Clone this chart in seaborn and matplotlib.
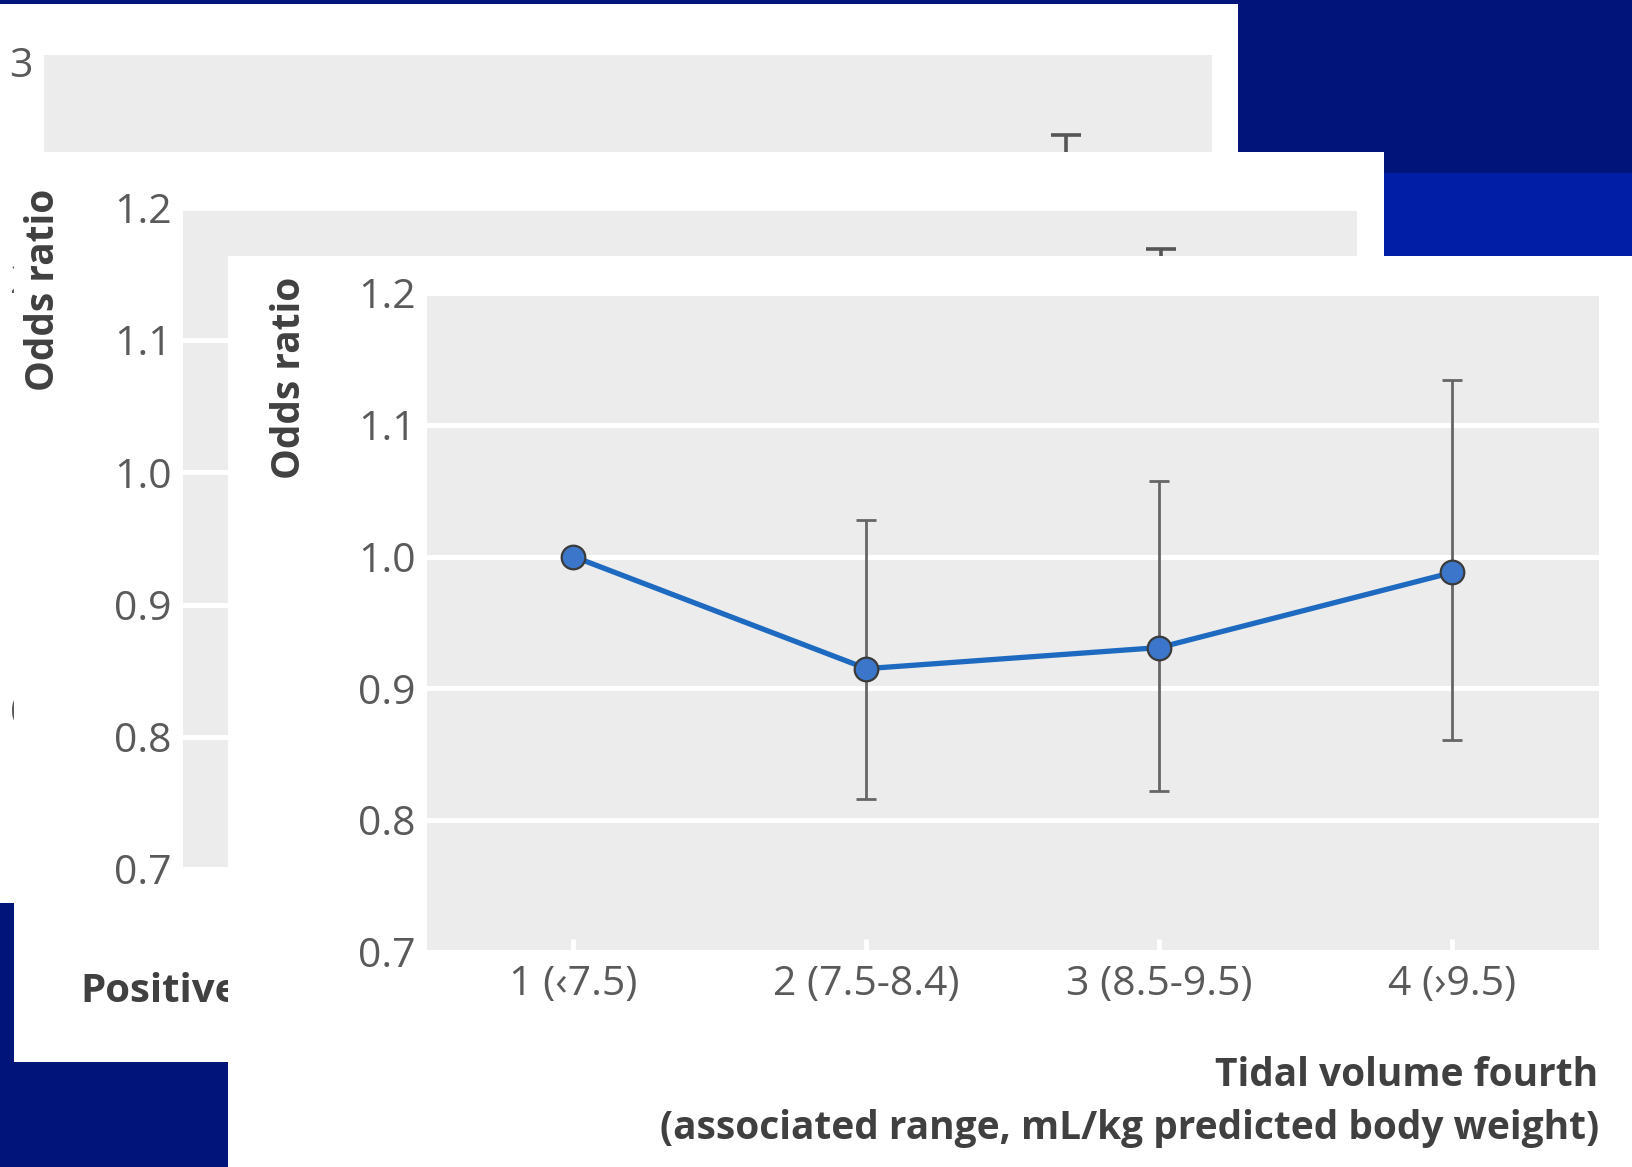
import numpy as np
import pandas as pd
import matplotlib
matplotlib.use("Agg")
import matplotlib.pyplot as plt
from matplotlib.patches import Rectangle
import seaborn as sns

# ---- data -------------------------------------------------------------
fourth_labels = ["1 (\u20397.5)", "2 (7.5-8.4)", "3 (8.5-9.5)", "4 (\u203a9.5)"]
odds_ratio = [1.00, 0.915, 0.931, 0.988]
ci_lower = [np.nan, 0.816, 0.822, 0.861]
ci_upper = [np.nan, 1.028, 1.057, 1.134]
or_ticks = [0.7, 0.8, 0.9, 1.0, 1.1, 1.2]

# panels stacked behind: only the top of their last interval is exposed
middle_upper = [1.169]
back_upper = [2.66]
back_ticks = [0, 1, 2, 3]

# ---- styling ----------------------------------------------------------
sns.set_theme(style="white")
plt.rcParams["font.family"] = ["Open Sans", "DejaVu Sans"]

W, H = 1633, 1167
NAVY = "#00147a"
BAND = "#011fa6"
PANEL = "#ebeceb"
TICK_C = "#5a5a5a"
LABEL_C = "#404040"
TICK_FS = 29.5
LABEL_FS = 28


def box(x0, y0, x1, y1):
    """Pixel box (top-left origin) -> figure fraction rect."""
    return [x0 / W, 1 - y1 / H, (x1 - x0) / W, (y1 - y0) / H]


def card(fig, x0, y0, x1, y1, z, color="white"):
    l, b, w, h = box(x0, y0, x1, y1)
    fig.add_artist(Rectangle((l, b), w, h, transform=fig.transFigure,
                             facecolor=color, edgecolor="none", zorder=z))


def style_axes(ax, ylim, yticks, ylabels, xlim, grid=True):
    ax.set_facecolor(PANEL)
    for s in ax.spines.values():
        s.set_visible(False)
    ax.set_xlim(*xlim)
    ax.set_ylim(*ylim)
    ax.set_yticks(yticks)
    ax.set_yticklabels(ylabels)
    ax.set_axisbelow(True)
    ax.grid(False)
    if grid:
        ax.grid(axis="y", color="white", linewidth=3.6)
    ax.tick_params(axis="y", length=0, pad=8, labelsize=TICK_FS,
                   labelcolor=TICK_C)
    ax.tick_params(axis="x", direction="in", length=9.5, width=3.5,
                   color="white", pad=9, labelsize=TICK_FS,
                   labelcolor=TICK_C, bottom=True)
    ax.set_xlabel("")
    ax.set_ylabel("")


fig = plt.figure(figsize=(W / 100, H / 100), dpi=100, facecolor=NAVY)

# brighter band of the slide background
card(fig, 0, 173, W, 256, 0.5, BAND)

# ---- back panel -------------------------------------------------------
card(fig, 0, 4, 1238, 903, 1)
ax1 = fig.add_axes(box(44, 55, 1212, 710), zorder=2)
style_axes(ax1, (0, 3.03), back_ticks, [str(t) for t in back_ticks],
           (-0.5, 3.5), grid=False)
ax1.set_xticks(range(4))
ax1.tick_params(axis="x", labelbottom=False)
ax1.errorbar([3], back_upper, yerr=[[back_upper[0]], [0]], fmt="none",
             ecolor="#555555", elinewidth=2.6, capsize=11, capthick=2.6)

# ---- middle panel -----------------------------------------------------
card(fig, 14, 152, 1384, 1062, 3)
ax2 = fig.add_axes(box(183, 208, 1357, 869), zorder=4)
style_axes(ax2, (0.7, 1.2), or_ticks, [f"{t:.1f}" for t in or_ticks],
           (-0.5, 3.7))
ax2.set_xticks(range(4))
ax2.tick_params(axis="x", labelbottom=False)
ax2.errorbar([3], middle_upper, yerr=[[middle_upper[0] - 0.7], [0]],
             fmt="none", ecolor="#555555", elinewidth=2.6, capsize=11,
             capthick=2.6)
fig.text(44 / W, 1 - 290 / H, "Odds ratio", rotation=90, ha="center",
         va="center", fontsize=LABEL_FS, fontweight="bold", color=LABEL_C,
         zorder=4.5)
fig.text(80 / W, 1 - 992 / H, "Positive",
         ha="left", va="center", fontsize=LABEL_FS + 1, fontweight="bold",
         color=LABEL_C, zorder=4.5)

# ---- front panel ------------------------------------------------------
card(fig, 228, 256, W, H, 5)
ax3 = fig.add_axes(box(427, 293, 1599, 952), zorder=6)
style_axes(ax3, (0.7, 1.2), or_ticks, [f"{t:.1f}" for t in or_ticks],
           (-0.5, 3.5))

df = pd.DataFrame({
    "pos": np.arange(len(fourth_labels)),
    "fourth": fourth_labels,
    "or": odds_ratio,
    "lo": ci_lower,
    "hi": ci_upper,
})

ci = df.dropna()
ax3.errorbar(ci["pos"], ci["or"],
             yerr=[ci["or"] - ci["lo"], ci["hi"] - ci["or"]],
             fmt="none", ecolor="#666666", elinewidth=2.0, capsize=7,
             capthick=2.0, zorder=2)
sns.lineplot(data=df, x="pos", y="or", ax=ax3, color="#1d6ac0",
             linewidth=3.8, marker="o", markersize=17,
             markerfacecolor="#3b76cb", markeredgecolor="#3a3a3a",
             markeredgewidth=1.6, zorder=3)
ax3.set_xticks(df["pos"])
ax3.set_xticklabels(df["fourth"])
ax3.set_xlabel("")
ax3.set_ylabel("")
ax3.set_xlim(-0.5, 3.5)
ax3.set_ylim(0.7, 1.2)

fig.text(289 / W, 1 - 378 / H, "Odds ratio", rotation=90, ha="center",
         va="center", fontsize=LABEL_FS, fontweight="bold", color=LABEL_C,
         zorder=7)
fig.text(1598 / W, 1 - 1076 / H, "Tidal volume fourth", ha="right",
         va="center", fontsize=LABEL_FS, fontweight="bold", color=LABEL_C,
         zorder=7)
fig.text(1599 / W, 1 - 1128 / H,
         "(associated range, mL/kg predicted body weight)", ha="right",
         va="center", fontsize=LABEL_FS, fontweight="bold", color=LABEL_C,
         zorder=7)

fig.savefig("out.png", dpi=100, facecolor=NAVY)
